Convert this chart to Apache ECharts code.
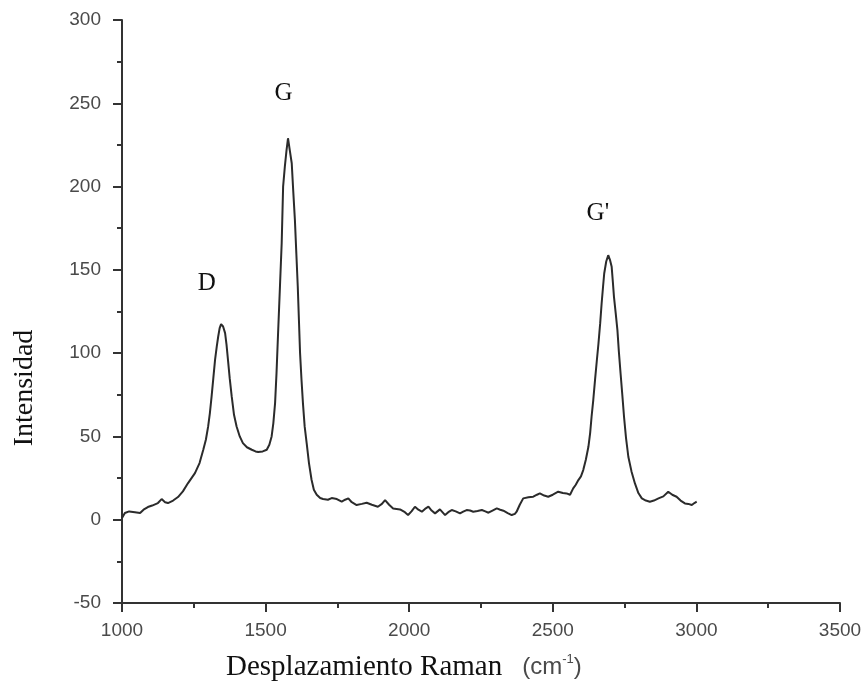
<!DOCTYPE html>
<html>
<head>
<meta charset="utf-8">
<script src="https://cdn.jsdelivr.net/npm/echarts@6/dist/echarts.min.js"></script>
<style>
  html, body { margin: 0; padding: 0; background: #fff; }
  #chart { width: 865px; height: 694px; }
</style>
</head>
<body>
<div id="chart"></div>
<script>
// Raman shift (cm^-1) and intensity
const shift = [
  1000, 1010, 1025, 1045, 1063, 1075, 1090, 1105, 1125, 1138, 1150, 1160, 1178, 1195, 1212, 1230,
  1254, 1270, 1283, 1292, 1300, 1306, 1312, 1318, 1324, 1330, 1335, 1340, 1345, 1352, 1359, 1364,
  1369, 1375, 1382, 1390, 1399, 1410, 1421, 1435, 1452, 1465, 1474, 1490, 1504, 1513, 1521, 1527,
  1533, 1538, 1543, 1550, 1556, 1561, 1567, 1573, 1578, 1584, 1591, 1596, 1602, 1607, 1612, 1616,
  1620, 1625, 1630, 1636, 1643, 1651, 1660, 1668, 1678, 1690, 1700, 1717, 1730, 1748, 1765, 1777,
  1788, 1800, 1817, 1835, 1852, 1870, 1891, 1905, 1916, 1930, 1944, 1968, 1985, 1996, 2008, 2020,
  2032, 2044, 2055, 2067, 2078, 2090, 2107, 2125, 2136, 2148, 2162, 2177, 2188, 2200, 2212, 2223,
  2238, 2253, 2265, 2276, 2290, 2305, 2317, 2328, 2343, 2357, 2368, 2374, 2385, 2397, 2415, 2432,
  2445, 2455, 2470, 2484, 2500, 2519, 2535, 2548, 2560, 2571, 2580, 2589, 2598, 2606, 2615, 2624,
  2630, 2635, 2641, 2647, 2653, 2659, 2665, 2670, 2675, 2679, 2686, 2693, 2699, 2705, 2709, 2713,
  2719, 2725, 2730, 2736, 2742, 2748, 2755, 2763, 2774, 2786, 2798, 2810, 2824, 2838, 2852, 2868,
  2885, 2902, 2916, 2931, 2945, 2960, 2972, 2984, 2993, 3001
];
const intensity = [
  1, 4, 5, 4.5, 4, 6, 7.6, 8.5, 10, 12.4, 10.5, 10, 11.5, 13.6, 17, 22,
  28, 34, 42, 48, 56, 64, 74, 85, 96, 104, 110, 115, 117.4, 116, 112, 105,
  96, 85, 74, 63, 56, 50, 46, 43.5, 42, 41, 40.6, 41, 42, 45, 50, 58,
  70, 88, 110, 140, 166, 200, 212, 222, 229, 222, 214, 198, 180, 160, 140, 120,
  100, 84, 70, 56, 46, 34, 24, 18, 15, 13, 12.4, 12, 13, 12.4, 10.8, 12,
  12.8, 10.5, 8.8, 9.5, 10.2, 9, 7.8, 9.5, 11.8, 9, 6.8, 6.2, 4.5, 2.8, 5, 7.8,
  6, 4.8, 6.5, 7.8, 5.5, 3.8, 6.2, 2.8, 4.5, 5.8, 5, 3.8, 4.8, 5.8, 5.5, 4.8,
  5.2, 5.8, 5, 4.2, 5.5, 6.8, 6, 5.4, 4, 2.8, 3.5, 4.8, 9, 12.8, 13.5, 13.8,
  15, 15.8, 14.5, 13.8, 15, 16.8, 16, 15.8, 15, 18.8, 21, 23.8, 26, 29.8, 36, 43.8,
  52, 61.8, 72, 83.8, 95, 105.8, 118, 129.8, 140, 147.8, 155, 158.8, 156, 151.8, 143, 133.8,
  124, 113.8, 101, 87.8, 75, 61.8, 49, 37.8, 29, 21.8, 16, 12.8, 11.5, 10.8, 11.5, 12.8,
  14, 16.8, 15, 13.8, 11.5, 9.8, 9.5, 8.8, 10, 10.8
];
// peak labels and where they sit
const peakNames = ['D', 'G', "G'"];
const peakX = [1295, 1562, 2657];
const peakY = [142, 256, 184];

const chart = echarts.init(document.getElementById('chart'));

const axisColor = '#333';
const tickFont = { color: '#4a4a4a', fontFamily: 'Liberation Sans, Arial, sans-serif', fontSize: 19 };

const option = {
  animation: false,
  grid: { left: 122, right: 25, top: 20, bottom: 91 },
  xAxis: {
    type: 'value',
    min: 1000,
    max: 3500,
    interval: 500,
    axisLine: { show: true, onZero: false, lineStyle: { color: axisColor, width: 2 } },
    axisTick: { show: true, inside: false, length: 9, lineStyle: { color: axisColor, width: 2 } },
    minorTick: { show: true, splitNumber: 2, length: 5, lineStyle: { color: axisColor, width: 2 } },
    splitLine: { show: false },
    axisLabel: Object.assign({ margin: 18, formatter: v => String(v) }, tickFont)
  },
  yAxis: {
    type: 'value',
    min: -50,
    max: 300,
    interval: 50,
    axisLine: { show: true, onZero: false, lineStyle: { color: axisColor, width: 2 } },
    axisTick: { show: true, inside: false, length: 9, lineStyle: { color: axisColor, width: 2 } },
    minorTick: { show: true, splitNumber: 2, length: 5, lineStyle: { color: axisColor, width: 2 } },
    splitLine: { show: false },
    axisLabel: Object.assign({ margin: 21, formatter: v => String(v) }, tickFont)
  },
  graphic: [
    {
      type: 'text',
      x: 226,
      y: 667,
      style: {
        text: '{a|Desplazamiento Raman}{c|(cm}{s|-1}{b|)}',
        verticalAlign: 'middle',
        rich: {
          a: { fontFamily: 'Liberation Serif, Times New Roman, serif', fontSize: 29, fill: '#111' },
          c: { fontFamily: 'Liberation Sans, Arial, sans-serif', fontSize: 24, fill: '#4a4a4a', padding: [0, 0, 0, 20] },
          b: { fontFamily: 'Liberation Sans, Arial, sans-serif', fontSize: 24, fill: '#4a4a4a' },
          s: { fontFamily: 'Liberation Sans, Arial, sans-serif', fontSize: 13, fill: '#4a4a4a', verticalAlign: 'top', padding: [0, 0, 14, 0] }
        }
      }
    },
    {
      type: 'text',
      x: 25,
      y: 388,
      rotation: Math.PI / 2,
      style: {
        text: 'Intensidad',
        align: 'center',
        verticalAlign: 'middle',
        fontFamily: 'Liberation Serif, Times New Roman, serif',
        fontSize: 28,
        fill: '#111'
      }
    }
  ],
  series: [
    {
      type: 'line',
      data: shift.map((x, i) => [x, intensity[i]]),
      showSymbol: false,
      lineStyle: { color: '#2b2b2b', width: 2 },
      markPoint: {
        symbol: 'circle',
        symbolSize: 0,
        label: {
          show: true,
          position: 'inside',
          formatter: p => p.name,
          fontFamily: 'Liberation Serif, Times New Roman, serif',
          fontSize: 25,
          color: '#111'
        },
        data: peakNames.map((n, i) => ({ name: n, coord: [peakX[i], peakY[i]] }))
      }
    }
  ]
};

chart.setOption(option);
</script>
</body>
</html>
